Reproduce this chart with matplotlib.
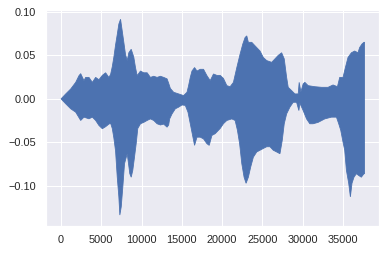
import numpy as np
import matplotlib
matplotlib.use("Agg")
import matplotlib.pyplot as plt
import seaborn as sns

# amplitude envelope of the waveform (sample index, value)
upper_idx = [0, 582, 1200, 1819, 2228, 2438, 2846, 3057, 3465, 3886, 4295, 4703, 5124, 5532,
             5940, 6151, 6361, 6559, 6770, 6980, 7178, 7389, 7599, 7797, 8007, 8218, 8416,
             8713, 9034, 9245, 9455, 9864, 10272, 10693, 11101, 11510, 11931, 12339, 12747,
             13168, 13366, 13576, 13985, 14604, 15222, 15643, 15841, 16052, 16262, 16584,
             16881, 17289, 17698, 18119, 18527, 18935, 19356, 19765, 20173, 20594, 21002,
             21410, 21831, 22240, 22574, 22858, 23069, 23267, 23688, 24096, 24715, 25123,
             25544, 26163, 26571, 26980, 27400, 27722, 28020, 28217, 28638, 29047, 29458,
             29578, 29790, 30074, 30284, 30693, 31521, 32351, 33168, 33786, 34331, 34616,
             35024, 35321, 35643, 36064, 36472, 36880, 37091, 37376, 37623, 37700]
upper_val = [0.0, 0.0057, 0.0114, 0.019, 0.0267, 0.029, 0.021, 0.0247, 0.0247, 0.019, 0.0247,
             0.022, 0.027, 0.030, 0.0247, 0.028, 0.037, 0.048, 0.062, 0.074, 0.086, 0.0915,
             0.078, 0.065, 0.051, 0.044, 0.053, 0.057, 0.048, 0.036, 0.0267, 0.032, 0.030,
             0.030, 0.0247, 0.026, 0.0247, 0.026, 0.0247, 0.023, 0.018, 0.012, 0.0076, 0.0057,
             0.0038, 0.0076, 0.0152, 0.0247, 0.032, 0.036, 0.032, 0.034, 0.034, 0.0267, 0.021,
             0.0286, 0.027, 0.027, 0.0235, 0.0152, 0.014, 0.019, 0.036, 0.0515, 0.063, 0.0705,
             0.0724, 0.065, 0.065, 0.061, 0.055, 0.0476, 0.044, 0.042, 0.046, 0.050, 0.053,
             0.046, 0.0247, 0.0133, 0.0095, 0.0057, 0.0057, 0.019, 0.008, 0.0172, 0.019,
             0.0152, 0.014, 0.0133, 0.0133, 0.016, 0.014, 0.0247, 0.0247, 0.036, 0.0476,
             0.053, 0.055, 0.053, 0.059, 0.063, 0.065, 0.065]

lower_idx = [0, 582, 1200, 1819, 2438, 2846, 3465, 3886, 4295, 4703, 5124, 5532, 5940, 6151,
             6361, 6559, 6770, 6980, 7178, 7302, 7475, 7673, 7883, 8218, 8540, 8713, 8911,
             9121, 9332, 9530, 9864, 10272, 10693, 11101, 11510, 11931, 12339, 12747, 13168,
             13366, 13490, 13787, 14195, 14604, 15024, 15433, 15767, 16052, 16336, 16584,
             16881, 17289, 17698, 18119, 18403, 18737, 19146, 19765, 20173, 20594, 21212,
             21621, 21906, 22180, 22450, 22734, 22982, 23267, 23564, 23886, 24306, 24715,
             25123, 25544, 25953, 26361, 26782, 27190, 27475, 27722, 28020, 28428, 28837,
             29257, 29542, 29665, 30074, 30495, 30903, 31311, 31930, 32760, 33589, 34208,
             34491, 34739, 35024, 35234, 35445, 35730, 35940, 36138, 36385, 36682, 36970,
             37302, 37623, 37700]
lower_val = [0.0, -0.0057, -0.0114, -0.0153, -0.0248, -0.021, -0.0229, -0.021, -0.0248,
             -0.0305, -0.0343, -0.032, -0.029, -0.028, -0.034, -0.045, -0.060, -0.090,
             -0.1126, -0.1335, -0.124, -0.101, -0.0744, -0.063, -0.086, -0.090, -0.082,
             -0.067, -0.0515, -0.034, -0.0286, -0.027, -0.0248, -0.023, -0.0248, -0.0286,
             -0.030, -0.029, -0.0325, -0.030, -0.023, -0.0172, -0.0114, -0.0095, -0.007,
             -0.0075, -0.0153, -0.0286, -0.042, -0.0534, -0.044, -0.044, -0.046, -0.0515,
             -0.0534, -0.042, -0.040, -0.034, -0.0285, -0.0248, -0.023, -0.0248, -0.036,
             -0.0515, -0.0744, -0.090, -0.097, -0.090, -0.078, -0.067, -0.061, -0.059,
             -0.057, -0.055, -0.055, -0.059, -0.061, -0.063, -0.0477, -0.0286, -0.0172,
             -0.0095, -0.0039, -0.0039, -0.0134, -0.005, -0.0134, -0.023, -0.0286, -0.0286,
             -0.027, -0.023, -0.021, -0.021, -0.0286, -0.036, -0.0496, -0.059, -0.082,
             -0.097, -0.1126, -0.097, -0.090, -0.086, -0.088, -0.090, -0.086, -0.086]

sns.set_theme()
plt.rcParams['font.family'] = ['Liberation Sans', 'DejaVu Sans']

fig = plt.figure(figsize=(386 / 72, 253 / 72), dpi=72)
ax = fig.add_subplot(111)
fig.subplots_adjust(left=0.119, right=0.982, bottom=0.107, top=0.96)

xs = np.concatenate([upper_idx, lower_idx[::-1]])
ys = np.concatenate([upper_val, lower_val[::-1]])
ax.fill(xs, ys, color='#4c72b0', lw=0.8)

ax.set_xlim(-1880, 39500)
ax.set_ylim(-0.146, 0.102)
ax.set_xticks([0, 5000, 10000, 15000, 20000, 25000, 30000, 35000])
ax.set_yticks([-0.10, -0.05, 0.00, 0.05, 0.10])

fig.savefig("out.png", dpi=72)
